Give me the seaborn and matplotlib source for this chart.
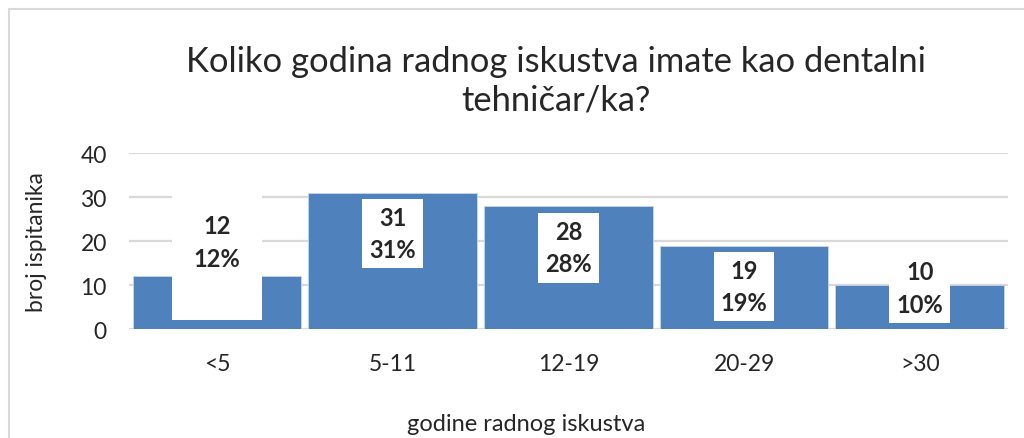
import matplotlib
matplotlib.use('Agg')
import pandas as pd
import seaborn as sns
import matplotlib.pyplot as plt
from matplotlib.patches import Rectangle
from matplotlib.lines import Line2D

# podaci
kategorije = ['<5', '5-11', '12-19', '20-29', '>30']
broj = [12, 31, 28, 19, 10]
postotak = [12, 31, 28, 19, 10]
# visina na kojoj stoji oznaka (očitano sa slike)
oznaka_y = [19.8, 21.7, 18.5, 9.7, 9.3]

sns.set_style('white')
plt.rcParams['font.family'] = ['Lato', 'DejaVu Sans']

df = pd.DataFrame({'kategorija': kategorije, 'broj': broj})

fig = plt.figure(figsize=(10.24, 4.39), dpi=100)
ax = fig.add_axes([0.126, 0.248, 0.858, 0.401])

sns.barplot(x='kategorija', y='broj', data=df, color='#4f81bd', width=0.96,
            edgecolor='#c9d6e8', linewidth=0.6, saturation=1, ax=ax, zorder=2)

ax.set_ylim(0, 40)
ax.set_xlim(-0.5, 4.5)
ax.set_yticks([0, 10, 20, 30, 40])
ax.yaxis.grid(True, color='#d9d9d9', linewidth=1.6, zorder=0)
ax.set_axisbelow(True)
for s in ax.spines.values():
    s.set_visible(False)
ax.tick_params(axis='y', length=0, pad=16, labelsize=16.5)
ax.tick_params(axis='x', length=0, pad=17, labelsize=16.5)
ax.set_xlabel('')
ax.set_ylabel('broj ispitanika', fontsize=16.5)
ax.yaxis.set_label_coords(-0.093, 0.5)

# oznake s bijelom pozadinom
for i, (b, p, y) in enumerate(zip(broj, postotak, oznaka_y)):
    if i == 0:
        ax.add_patch(Rectangle((i - 0.256, 2), 0.512, 35.3, facecolor='white',
                               edgecolor='none', zorder=3))
        ax.text(i, y, f'{b}\n{p}%', ha='center', va='center', fontsize=17,
                fontweight='bold', linespacing=1.5, zorder=4)
    else:
        ax.text(i, y, f'{b}\n{p}%', ha='center', va='center', fontsize=17,
                fontweight='bold', linespacing=1.5, zorder=4,
                bbox=dict(boxstyle='square,pad=0.3', facecolor='white', edgecolor='none'))

fig.text(0.543, 0.815, 'Koliko godina radnog iskustva imate kao dentalni\ntehničar/ka?',
         ha='center', va='center', fontsize=24.8, linespacing=1.25)
fig.text(0.514, 0.034, 'godine radnog iskustva', ha='center', va='center', fontsize=17)

# okvir grafikona
fig.add_artist(Line2D([0.009, 0.009], [0, 0.977], color='#d9d9d9', lw=1.5))
fig.add_artist(Line2D([0.009, 1.0], [0.977, 0.977], color='#d9d9d9', lw=1.5))

plt.savefig('out.png', dpi=100)
